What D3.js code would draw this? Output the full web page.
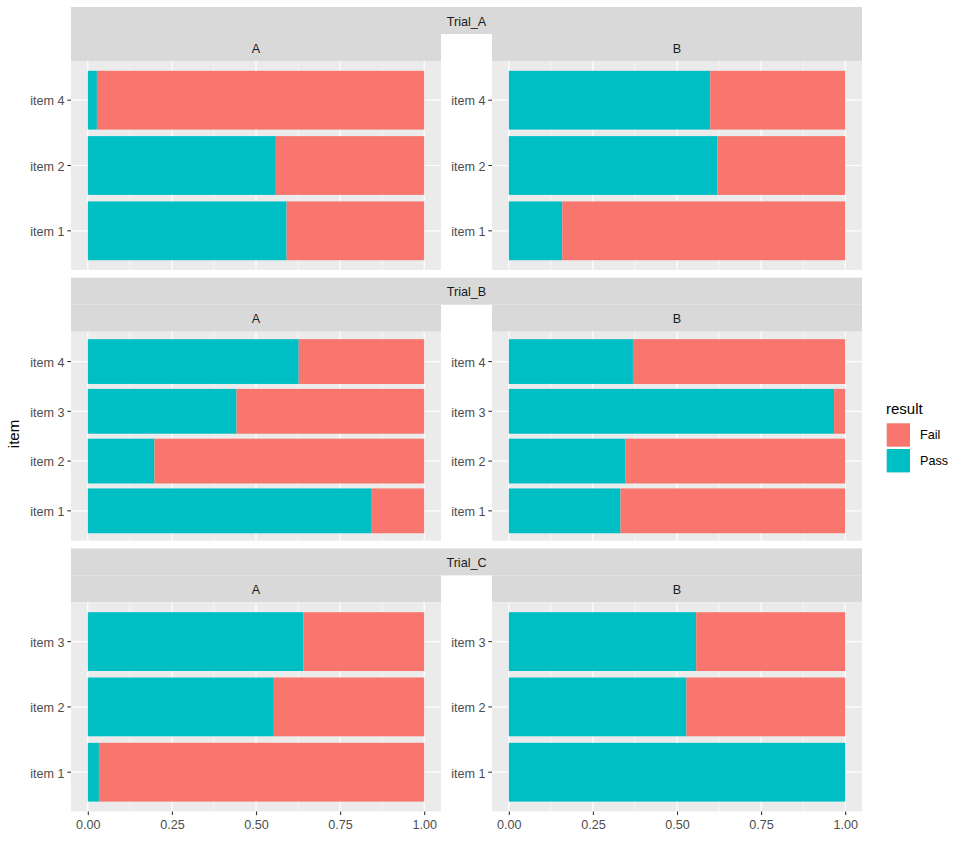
<!DOCTYPE html>
<html>
<head>
<meta charset="utf-8">
<script src="https://cdn.jsdelivr.net/npm/d3@7"></script>
<style>
  html, body { margin: 0; padding: 0; background: #fff; }
  text { font-family: "Liberation Sans", Arial, sans-serif; }
</style>
</head>
<body>
<svg id="chart" width="966" height="841"></svg>
<script>
// ---------- data ----------
const trials = ["Trial_A", "Trial_B", "Trial_C"];
const groups = ["A", "B"];
const results = ["Fail", "Pass"];
const xTicks = [0, 0.25, 0.5, 0.75, 1];
const xTickLabels = ["0.00", "0.25", "0.50", "0.75", "1.00"];

const itemsTrialA = ["item 1", "item 2", "item 4"];
const itemsTrialB = ["item 1", "item 2", "item 3", "item 4"];
const itemsTrialC = ["item 1", "item 2", "item 3"];

// share of "Pass" per item (remaining share is "Fail")
const passTrialA_A = [0.591, 0.559, 0.027];
const passTrialA_B = [0.159, 0.620, 0.599];
const passTrialB_A = [0.842, 0.198, 0.442, 0.627];
const passTrialB_B = [0.332, 0.347, 0.967, 0.369];
const passTrialC_A = [0.033, 0.553, 0.641];
const passTrialC_B = [1.000, 0.528, 0.557];

const itemsByTrial = [itemsTrialA, itemsTrialB, itemsTrialC];
const passByTrial = [[passTrialA_A, passTrialA_B], [passTrialB_A, passTrialB_B], [passTrialC_A, passTrialC_B]];

// ---------- styling / layout ----------
const colors = { Fail: "#F8766D", Pass: "#00BFC4" };
const panelBg = "#EBEBEB", stripBg = "#D9D9D9";
const fontSmall = "12.6px", fontTitle = "15px";
const fontFam = "'Liberation Sans', Arial, sans-serif";

const colX = [[71, 441], [492, 862]];
const rowTop0 = 7, stripH = 27, panelH = 209, rowGap = 7.7;

const svg = d3.select("#chart");

const color = d3.scaleOrdinal().domain(results).range([colors.Fail, colors.Pass]);

trials.forEach((trial, r) => {
  const top = rowTop0 + r * (2 * stripH + panelH + rowGap);
  const pTop = top + 2 * stripH;
  const pBot = pTop + panelH;
  const items = itemsByTrial[r];

  // Trial strip
  svg.append("rect").attr("x", colX[0][0]).attr("y", top)
    .attr("width", colX[1][1] - colX[0][0]).attr("height", stripH).attr("fill", stripBg);
  svg.append("text").attr("x", (colX[0][0] + colX[1][1]) / 2).attr("y", top + stripH / 2)
    .attr("dy", "0.42em").attr("text-anchor", "middle").attr("fill", "#1A1A1A")
    .style("font-size", fontSmall).text(trial);

  const y = d3.scaleBand().domain(items).range([pBot, pTop])
    .paddingInner(0.1).paddingOuter(0.15);

  groups.forEach((g, c) => {
    const [x0, x1] = colX[c];
    const x = d3.scaleLinear().domain([-0.05, 1.05]).range([x0, x1]);

    // group strip
    svg.append("rect").attr("x", x0).attr("y", top + stripH)
      .attr("width", x1 - x0).attr("height", stripH).attr("fill", stripBg);
    svg.append("text").attr("x", (x0 + x1) / 2).attr("y", top + stripH * 1.5)
      .attr("dy", "0.42em").attr("text-anchor", "middle").attr("fill", "#1A1A1A")
      .style("font-size", fontSmall).text(g);

    // panel background
    const panel = svg.append("g");
    panel.append("rect").attr("x", x0).attr("y", pTop)
      .attr("width", x1 - x0).attr("height", panelH).attr("fill", panelBg);

    // minor grid
    const minor = d3.range(0, 4).map(i => xTicks[i] + 0.125);
    panel.selectAll(".minor").data(minor).join("line")
      .attr("x1", d => x(d)).attr("x2", d => x(d)).attr("y1", pTop).attr("y2", pBot)
      .attr("stroke", "#fff").attr("stroke-width", 0.6);
    // major grid
    panel.selectAll(".majorx").data(xTicks).join("line")
      .attr("x1", d => x(d)).attr("x2", d => x(d)).attr("y1", pTop).attr("y2", pBot)
      .attr("stroke", "#fff").attr("stroke-width", 1.2);
    panel.selectAll(".majory").data(items).join("line")
      .attr("x1", x0).attr("x2", x1)
      .attr("y1", d => y(d) + y.bandwidth() / 2).attr("y2", d => y(d) + y.bandwidth() / 2)
      .attr("stroke", "#fff").attr("stroke-width", 1.2);

    // bars
    const pass = passByTrial[r][c];
    const rows = items.map((it, i) => ({ item: it, Pass: pass[i], Fail: 1 - pass[i] }));
    const stacked = d3.stack().keys(["Pass", "Fail"])(rows);
    panel.selectAll(".series").data(stacked).join("g")
      .attr("fill", s => color(s.key))
      .selectAll("rect").data(s => s).join("rect")
      .attr("x", d => x(d[0]))
      .attr("width", d => Math.max(0, x(d[1]) - x(d[0])))
      .attr("y", d => y(d.data.item))
      .attr("height", y.bandwidth());

    // y axis
    const yAxis = svg.append("g").attr("transform", `translate(${x0},0)`)
      .call(d3.axisLeft(y).tickSize(3.67).tickPadding(2.9));
    yAxis.select(".domain").remove();
    yAxis.selectAll(".tick line").attr("stroke", "#333333").attr("stroke-width", 1.07);
    yAxis.selectAll(".tick text").attr("fill", "#4D4D4D").attr("dy", "0.42em")
      .style("font-size", fontSmall).style("font-family", fontFam);

    // x axis for bottom row
    if (r === trials.length - 1) {
      const xAxis = svg.append("g").attr("transform", `translate(0,${pBot})`)
        .call(d3.axisBottom(x).tickValues(xTicks).tickFormat((d, i) => xTickLabels[i])
          .tickSize(3.67).tickPadding(5));
      xAxis.select(".domain").remove();
      xAxis.selectAll(".tick line").attr("stroke", "#333333").attr("stroke-width", 1.07);
      xAxis.selectAll(".tick text").attr("fill", "#4D4D4D")
        .style("font-size", fontSmall).style("font-family", fontFam);
    }
  });
});

// y axis title
svg.append("text").attr("transform", "translate(19,434) rotate(-90)")
  .attr("text-anchor", "middle").attr("fill", "#000").style("font-size", fontTitle).text("item");

// legend
const leg = svg.append("g").attr("transform", "translate(886,0)");
leg.append("text").attr("x", 0).attr("y", 414).attr("fill", "#000")
  .style("font-size", fontTitle).text("result");
results.forEach((res, i) => {
  const ky = 423.3 + i * 25.7;
  leg.append("rect").attr("x", 0.7).attr("y", ky).attr("width", 23.3).attr("height", 23.4)
    .attr("fill", color(res));
  leg.append("text").attr("x", 34).attr("y", ky + 11.7).attr("dy", "0.35em")
    .attr("fill", "#000").style("font-size", fontSmall).text(res);
});
</script>
</body>
</html>
